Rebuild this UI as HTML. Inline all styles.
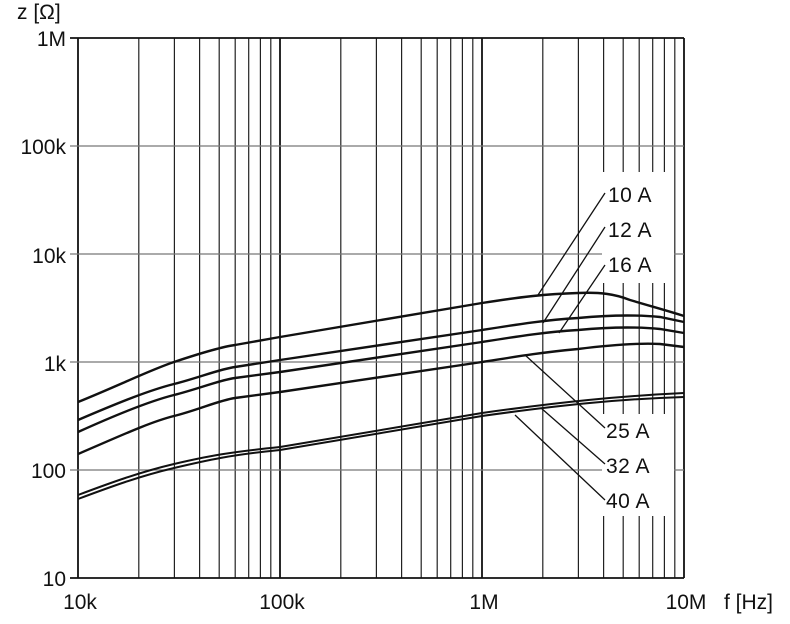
<!DOCTYPE html><html><head><style>body{margin:0;background:#fff}svg{display:block}text{font-family:"Liberation Sans",sans-serif;font-size:21px;fill:#111}</style></head><body>
<svg width="790" height="624" viewBox="0 0 790 624">
<g stroke="#222" stroke-width="1.2">
<line x1="138.8" y1="38" x2="138.8" y2="578"/><line x1="174.4" y1="38" x2="174.4" y2="578"/><line x1="199.6" y1="38" x2="199.6" y2="578"/><line x1="219.2" y1="38" x2="219.2" y2="578"/><line x1="235.2" y1="38" x2="235.2" y2="578"/><line x1="248.7" y1="38" x2="248.7" y2="578"/><line x1="260.4" y1="38" x2="260.4" y2="578"/><line x1="270.8" y1="38" x2="270.8" y2="578"/>
<line x1="340.8" y1="38" x2="340.8" y2="578"/><line x1="376.4" y1="38" x2="376.4" y2="578"/><line x1="401.6" y1="38" x2="401.6" y2="578"/><line x1="421.2" y1="38" x2="421.2" y2="578"/><line x1="437.2" y1="38" x2="437.2" y2="578"/><line x1="450.7" y1="38" x2="450.7" y2="578"/><line x1="462.4" y1="38" x2="462.4" y2="578"/><line x1="472.8" y1="38" x2="472.8" y2="578"/>
<line x1="542.8" y1="38" x2="542.8" y2="578"/><line x1="578.4" y1="38" x2="578.4" y2="578"/><line x1="603.6" y1="38" x2="603.6" y2="578"/><line x1="623.2" y1="38" x2="623.2" y2="578"/><line x1="639.2" y1="38" x2="639.2" y2="578"/><line x1="652.7" y1="38" x2="652.7" y2="578"/><line x1="664.4" y1="38" x2="664.4" y2="578"/><line x1="674.8" y1="38" x2="674.8" y2="578"/>
</g>
<g stroke="#111" stroke-width="1.8">
<line x1="78" y1="38" x2="78" y2="578"/><line x1="280" y1="38" x2="280" y2="578"/><line x1="482" y1="38" x2="482" y2="578"/><line x1="684" y1="38" x2="684" y2="578"/>
<line x1="70" y1="38" x2="684" y2="38"/><line x1="70" y1="578" x2="684" y2="578"/>
</g>
<g stroke="#777" stroke-width="1.2">
<line x1="70" y1="146" x2="684" y2="146"/><line x1="70" y1="254" x2="684" y2="254"/><line x1="70" y1="362" x2="684" y2="362"/><line x1="70" y1="470" x2="684" y2="470"/>
</g>
<rect x="602" y="172" width="72" height="111" fill="#fff"/>
<rect x="602" y="414" width="72" height="102" fill="#fff"/>
<g fill="none" stroke="#111" stroke-width="2.4">
<path d="M78,402 C120,385 150,370 174,362 S220,347 235,345 L280,337 L482,303 C520,297 545,294 578,293 C600,292 615,294 630,300 C650,306 665,310 684,316"/>
<path d="M78,420 C120,402 150,390 174,384 S220,369 235,367 L280,360 L482,330 C520,324 545,320 578,318 C610,315 640,315 660,317 L684,322"/>
<path d="M78,432 C120,413 150,401 174,395 S220,380 235,378 L280,372 L482,342 C520,336 545,332 578,330 C610,327 640,327 660,329 L684,333"/>
<path d="M78,454 C120,436 150,422 174,416 S220,400 235,398 L280,392 L482,362 C520,356 545,352 578,349 C610,345 640,343 660,344 L684,347"/>
<path d="M78,495 C110,483 140,472 174,464 S230,452 280,447 L482,413 C560,402 620,396 684,393" stroke-width="2"/>
<path d="M78,499 C110,487 140,476 174,468 S230,455 280,450 L482,416 C560,405 620,399 684,397" stroke-width="2"/>
</g>
<g stroke="#111" stroke-width="1.3">
<line x1="538" y1="295" x2="605" y2="193"/><line x1="543" y1="323" x2="605" y2="227"/><line x1="559" y1="333" x2="605" y2="265"/>
<line x1="525" y1="355" x2="605" y2="428"/><line x1="541" y1="408" x2="605" y2="464"/><line x1="515" y1="415" x2="605" y2="500"/>
</g>
<g letter-spacing="0.5"><text x="608" y="202">10 A</text><text x="608" y="237">12 A</text><text x="608" y="272">16 A</text>
<text x="606" y="438">25 A</text><text x="606" y="473">32 A</text><text x="606" y="508">40 A</text></g>
<g text-anchor="end"><text x="66" y="46">1M</text><text x="66" y="154">100k</text><text x="66" y="263">10k</text><text x="66" y="371">1k</text><text x="66" y="478">100</text><text x="66" y="586">10</text></g>
<g text-anchor="middle"><text x="80" y="609">10k</text><text x="282" y="609">100k</text><text x="484" y="609">1M</text><text x="686" y="609">10M</text></g>
<text x="724" y="609">f [Hz]</text><text x="17" y="19">z [Ω]</text>
</svg></body></html>
